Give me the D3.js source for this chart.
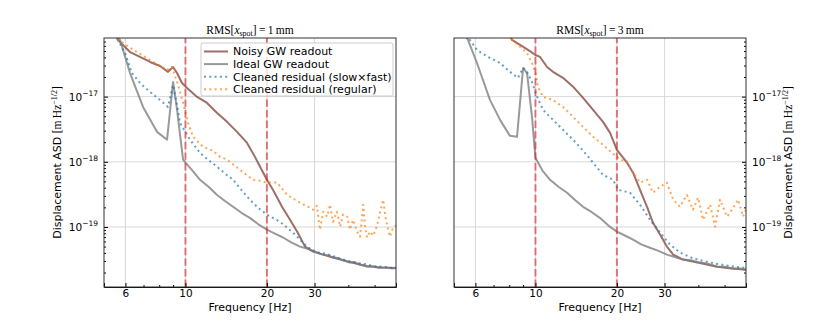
<!DOCTYPE html>
<html>
<head>
<meta charset="utf-8">
<script src="https://cdn.jsdelivr.net/npm/d3@7"></script>
<style>
  body { margin: 0; background: #fff; }
  svg { display: block; }
  text { font-family: "DejaVu Sans", sans-serif; }
  .math { font-family: "Liberation Serif", "DejaVu Serif", serif; }
</style>
</head>
<body>
<svg width="830" height="323"></svg>
<script>
// [frequency Hz, displacement ASD]
var noisy1 = [[5.5,9.0e-17],[5.63,7.4e-17],[6.24,4.83e-17],[6.79,4.06e-17],[7.40,3.4e-17],[8.05,2.95e-17],
  [8.62,2.4e-17],[9.0,2.85e-17],[9.31,2.3e-17],[9.71,1.62e-17],[10.14,1.36e-17],[11.04,9.9e-18],[12.02,8.0e-18],
  [13.09,5.6e-18],[14.25,4.1e-18],[15.51,2.88e-18],[16.89,1.95e-18],[18.07,1.19e-18],[18.87,8.4e-19],[20.0,5.3e-19],
  [21.08,3.7e-19],[22.75,2.04e-19],[24.35,1.29e-19],[25.85,8.5e-20],[27.67,5.0e-20],[29.63,4.2e-20],[32.0,3.8e-20],
  [35.1,3.4e-20],[40.5,2.9e-20],[46.9,2.5e-20],[53,2.4e-20],[60,2.35e-20]];

var ideal1 = [[5.5,9e-17],[5.73,7.4e-17],[6.24,2.3e-17],[6.97,6.95e-18],[7.85,2.88e-18],[8.55,2.18e-18],
  [9.0,1.68e-17],[9.31,6.3e-18],[9.80,1.08e-18],[10,9.7e-19],[10.6,7.4e-19],[11.32,5.3e-19],[12.2,4.1e-19],
  [13.09,3.1e-19],[14.0,2.5e-19],[15.0,2.04e-19],[16.1,1.65e-19],[17.3,1.38e-19],[18.6,1.1e-19],[20.0,9.1e-20],
  [21.4,7.9e-20],[22.95,6.9e-20],[24.6,5.8e-20],[26.5,5.0e-20],[28.5,4.6e-20],[30.6,4.07e-20],[32.0,3.8e-20],
  [33.5,3.7e-20],[35.1,3.4e-20],[36.5,3.35e-20],[38.0,3.1e-20],[40.5,2.84e-20],[42.0,2.9e-20],[44.0,2.65e-20],
  [46.9,2.47e-20],[49.0,2.5e-20],[52.0,2.35e-20],[55.0,2.4e-20],[58.5,2.3e-20],[60,2.38e-20]];

var clean1 = [[5.5,9e-17],[5.63,7.4e-17],[5.98,4.66e-17],[6.34,2.3e-17],[6.79,1.62e-17],[7.40,1.18e-17],
  [8.05,8.9e-18],[8.62,6.95e-18],[9.0,1.51e-17],[9.31,7.4e-18],[9.55,3.95e-18],[10.4,2.18e-18],[11.32,1.37e-18],
  [12.2,1.05e-18],[13.09,8.4e-19],[14.0,6.6e-19],[15.0,5.3e-19],[16.1,3.7e-19],[17.3,2.62e-19],[18.6,1.95e-19],
  [20.0,1.55e-19],[22.37,1.2e-19],[24.98,8.2e-20],[26.5,6.4e-20],[28.1,5.0e-20],[30.6,4.07e-20],[33.0,3.9e-20],
  [35.0,3.6e-20],[37.0,3.3e-20],[40.0,3.0e-20],[43.0,2.8e-20],[46.0,2.7e-20],[50.0,2.5e-20],[54.0,2.45e-20],
  [57.0,2.35e-20],[60,2.4e-20]];

var regular1 = [[5.5,9e-17],[5.63,7.4e-17],[6.62,4.83e-17],[7.40,3.65e-17],[8.55,2.57e-17],[8.92,2.85e-17],
  [9.39,1.51e-17],[9.80,8.0e-18],[10.22,3.95e-18],[10.67,2.42e-18],[11.61,1.7e-18],[12.64,1.48e-18],[13.43,1.19e-18],
  [14.25,1.08e-18],[15.92,7.5e-19],[17.77,5.3e-19],[18.87,5.1e-19],[20.0,4.8e-19],[21.8,4.8e-19],[23.75,3.1e-19],
  [26.5,2.35e-19],[28.9,1.97e-19],[29.63,1.84e-19],[30.6,2.12e-19],[31.4,9.1e-20],[32.3,1.71e-19],[33.4,1.44e-19],
  [34.2,2.2e-19],[35.1,1.2e-19],[36.3,1.71e-19],[37.3,1.01e-19],[38.2,1.55e-19],[39.6,1.44e-19],[40.5,9.1e-20],
  [41.6,1.29e-19],[43.1,8.5e-20],[44.2,7.1e-20],[45.4,2.2e-19],[46.1,9.8e-20],[46.9,6.9e-20],[48.1,8.5e-20],
  [49.4,7.36e-20],[51.1,1.05e-19],[52.4,1.71e-19],[53.8,2.62e-19],[54.7,1.55e-19],[55.6,1.08e-19],[57.0,7.1e-20],
  [58.5,9.8e-20],[60,1.05e-19]];

var noisy3 = [[8.0,9e-17],[8.19,7.4e-17],[8.77,6.2e-17],[9.39,5.2e-17],[10,4.35e-17],[10.4,4.06e-17],
  [11.04,2.85e-17],[11.61,2.4e-17],[12.64,1.94e-17],[13.77,1.42e-17],[15.0,9.55e-18],[16.33,6.25e-18],
  [17.77,4.1e-18],[18.87,2.78e-18],[20.0,1.53e-18],[21.8,9.7e-19],[22.95,6.8e-19],[24.35,3.72e-19],
  [25.85,2.04e-19],[27.2,1.16e-19],[28.9,7.6e-20],[30.6,5.0e-20],[32.3,3.77e-20],[35.1,3.16e-20],
  [40.5,2.8e-20],[46.9,2.45e-20],[53,2.3e-20],[60,2.2e-20]];

var ideal3 = [[5.5,9e-17],[5.63,7.4e-17],[6.08,3.28e-17],[6.79,8.9e-18],[7.40,4.4e-18],[8.05,2.5e-18],
  [8.55,2.42e-18],[9.0,2.75e-17],[9.31,2.3e-17],[9.71,4.9e-18],[10,1.15e-18],[10.6,7.4e-19],[11.32,5.3e-19],
  [12.2,4.1e-19],[13.09,3.35e-19],[14.0,2.6e-19],[15.0,2.04e-19],[16.1,1.7e-19],[17.3,1.38e-19],[18.6,1.05e-19],
  [20.0,8.5e-20],[21.4,7.4e-20],[22.95,6.4e-20],[24.6,5.4e-20],[26.5,4.8e-20],[28.5,4.3e-20],[30.6,3.77e-20],
  [32.5,3.5e-20],[35.1,3.16e-20],[37.5,3.1e-20],[40.5,2.84e-20],[43,2.75e-20],[46.9,2.47e-20],[50,2.45e-20],
  [54,2.3e-20],[57,2.3e-20],[60,2.2e-20]];

var clean3 = [[5.6,9e-17],[5.73,7.4e-17],[6.08,5.2e-17],[6.68,4.06e-17],[7.40,3.28e-17],[8.05,2.4e-17],
  [8.62,1.94e-17],[9.0,2.75e-17],[9.31,2.4e-17],[9.71,1.68e-17],[10.14,9.9e-18],[10.67,6.25e-18],[11.61,4.4e-18],
  [12.64,3.1e-18],[13.77,2.18e-18],[15.0,1.48e-18],[16.33,9.7e-19],[17.77,6.3e-19],[19.36,5.3e-19],[20.2,3.72e-19],
  [22.37,3.35e-19],[24.35,2.2e-19],[26.5,1.29e-19],[28.9,8.2e-20],[31.4,5.37e-20],[34.2,4.06e-20],[38.2,3.3e-20],
  [42,3.0e-20],[46,2.75e-20],[50,2.6e-20],[55,2.45e-20],[60,2.35e-20]];

var regular3 = [[8.0,9e-17],[8.19,7.4e-17],[8.62,6.2e-17],[9.31,4.66e-17],[9.71,3.28e-17],[10,2.3e-17],
  [10.22,1.42e-17],[10.67,9.9e-18],[11.61,8.9e-18],[12.64,6.95e-18],[13.77,4.9e-18],[15.0,3.43e-18],
  [16.33,2.42e-18],[17.77,1.82e-18],[19.2,1.37e-18],[20.55,1.08e-18],[21.8,1.0e-18],[22.95,6.8e-19],
  [24.35,4.8e-19],[25.85,5.3e-19],[27.2,3.35e-19],[28.9,4.15e-19],[30.6,4.8e-19],[32.3,2.62e-19],[34.2,2.04e-19],
  [36.3,3.1e-19],[38.2,1.84e-19],[39.9,2.82e-19],[41.6,1.29e-19],[44.2,2.2e-19],[46.1,1.01e-19],[48.1,2.62e-19],
  [51.1,1.44e-19],[53.8,1.97e-19],[56.1,2.62e-19],[58.5,1.44e-19],[60,1.84e-19]];

var seriesNames = ["Noisy GW readout", "Ideal GW readout", "Cleaned residual (slow\u00d7fast)", "Cleaned residual (regular)"];
var cutoffs = [10, 20];
var xTicks = [6, 10, 20, 30];
var xMinor = [7, 8, 9, 40, 50];
var yTicks = [1e-17, 1e-18, 1e-19];
var spotRms = ["1", "3"];

var styles = [
  {color: "#8c564b", opacity: 0.85, dash: null},
  {color: "#7f7f7f", opacity: 0.8, dash: null},
  {color: "#1f77b4", opacity: 0.7, dash: "2,3.3"},
  {color: "#ff7f0e", opacity: 0.7, dash: "2,3.3"}
];

var svg = d3.select("svg"),
    marginTop = 38,
    pw = 292,
    ph = 249;

var x = d3.scaleLog().domain([5, 60]).range([0, pw]);
var y = d3.scaleLog().domain([1.2e-20, 7.93e-17]).range([ph, 0]);

var yMinor = [];
[1e-20, 1e-19, 1e-18, 1e-17].forEach(function(d) {
  for (var k = 2; k <= 9; k++) {
    var v = d * k;
    if (v > 1.2e-20 && v < 7.93e-17) yMinor.push(v);
  }
});

var line = d3.line()
    .x(function(d) { return x(d[0]); })
    .y(function(d) { return y(d[1]); });

var panels = [
  {x0: 104, rms: spotRms[0], data: [noisy1, ideal1, clean1, regular1], side: "left", legend: true},
  {x0: 454, rms: spotRms[1], data: [noisy3, ideal3, clean3, regular3], side: "right", legend: false}
];

panels.forEach(function(p, pi) {
  var g = svg.append("g").attr("transform", "translate(" + p.x0 + "," + marginTop + ")");

  svg.append("clipPath").attr("id", "clip" + pi)
    .append("rect").attr("x", 0).attr("y", 0).attr("width", pw).attr("height", ph);

  // grid
  g.selectAll(".gx").data(xTicks).enter().append("line")
    .attr("x1", function(d) { return x(d); }).attr("x2", function(d) { return x(d); })
    .attr("y1", 0).attr("y2", ph)
    .attr("stroke", "#d4d4d4").attr("stroke-width", 0.9);
  g.selectAll(".gy").data(yTicks).enter().append("line")
    .attr("y1", function(d) { return y(d); }).attr("y2", function(d) { return y(d); })
    .attr("x1", 0).attr("x2", pw)
    .attr("stroke", "#d4d4d4").attr("stroke-width", 0.9);

  // curves
  var plot = g.append("g").attr("clip-path", "url(#clip" + pi + ")");
  p.data.forEach(function(s, i) {
    plot.append("path")
      .datum(s)
      .attr("d", line)
      .attr("fill", "none")
      .attr("stroke", styles[i].color)
      .attr("stroke-opacity", styles[i].opacity)
      .attr("stroke-width", 2)
      .attr("stroke-linejoin", "round")
      .attr("stroke-dasharray", styles[i].dash);
  });

  // cutoff lines
  plot.selectAll(".cut").data(cutoffs).enter().append("line")
    .attr("x1", function(d) { return x(d); }).attr("x2", function(d) { return x(d); })
    .attr("y1", ph).attr("y2", 0)
    .attr("stroke", "#d62728").attr("stroke-opacity", 0.6)
    .attr("stroke-width", 2).attr("stroke-dasharray", "7.4,3.2");

  // x axis
  var xa = g.append("g").attr("transform", "translate(0," + ph + ")")
    .call(d3.axisBottom(x).tickValues(xTicks).tickSize(-4).tickPadding(3).tickFormat(d3.format("d")));
  g.append("g").attr("transform", "translate(0," + ph + ")")
    .call(d3.axisBottom(x).tickValues(xMinor).tickSize(-2).tickFormat(""))
    .select(".domain").remove();
  xa.selectAll("text").attr("font-size", 10.5).attr("fill", "#000").style("font-family", "DejaVu Sans");

  // y axis
  var axisFn = p.side === "left" ? d3.axisLeft(y) : d3.axisRight(y);
  var ya = g.append("g").attr("transform", "translate(" + (p.side === "left" ? 0 : pw) + ",0)")
    .call(axisFn.tickValues(yTicks).tickSize(-4).tickFormat(""));
  ya.select(".domain").remove();
  var axisFn2 = p.side === "left" ? d3.axisLeft(y) : d3.axisRight(y);
  g.append("g").attr("transform", "translate(" + (p.side === "left" ? 0 : pw) + ",0)")
    .call(axisFn2.tickValues(yMinor).tickSize(-2).tickFormat(""))
    .select(".domain").remove();

  yTicks.forEach(function(t) {
    var tx = g.append("text")
      .attr("x", p.side === "left" ? -6 : pw + 6)
      .attr("y", y(t) + 4.5)
      .attr("text-anchor", p.side === "left" ? "end" : "start")
      .attr("font-size", 10.5).attr("fill", "#000");
    tx.append("tspan").text("10");
    tx.append("tspan").attr("dy", -5).attr("font-size", 7.5).text("\u2212" + Math.round(-Math.log10(t)));
  });

  // frame
  g.append("rect").attr("width", pw).attr("height", ph)
    .attr("fill", "none").attr("stroke", "#333").attr("stroke-width", 1);

  // title
  var tt = g.append("text").attr("class", "math")
    .attr("x", pw / 2).attr("y", -4)
    .attr("text-anchor", "middle").attr("font-size", 11.5);
  tt.append("tspan").text("RMS[");
  tt.append("tspan").attr("font-style", "italic").text("x");
  tt.append("tspan").attr("font-size", 8).attr("dy", 2).text("spot");
  tt.append("tspan").attr("dy", -2).text("]\u2009=\u20091\u2009mm".replace("1", p.rms));

  // y label
  var lx = p.side === "left" ? -43 : pw + 46;
  var yl = g.append("text")
    .attr("transform", "translate(" + lx + "," + (ph / 2) + ") rotate(-90)")
    .attr("text-anchor", "middle").attr("font-size", 11).attr("fill", "#000");
  yl.append("tspan").text("Displacement ASD ");
  yl.append("tspan").attr("class", "math").attr("font-size", 11.5).text("[m\u2009Hz");
  yl.append("tspan").attr("class", "math").attr("font-size", 8).attr("dy", -4.5).text("\u22121/2");
  yl.append("tspan").attr("class", "math").attr("font-size", 11.5).attr("dy", 4.5).text("]");

  // x label
  g.append("text")
    .attr("x", pw / 2).attr("y", ph + 24)
    .attr("text-anchor", "middle").attr("font-size", 11).attr("fill", "#000")
    .text("Frequency [Hz]");

  // legend
  if (p.legend) {
    var lg = g.append("g").attr("transform", "translate(" + (201 - p.x0) + "," + (43 - marginTop) + ")");
    lg.append("rect").attr("width", 192).attr("height", 53).attr("rx", 2)
      .attr("fill", "#fff").attr("fill-opacity", 0.8)
      .attr("stroke", "#ccc").attr("stroke-width", 1);
    seriesNames.forEach(function(name, i) {
      var ry = 8.5 + i * 12.6;
      lg.append("line")
        .attr("x1", 3).attr("x2", 27).attr("y1", ry).attr("y2", ry)
        .attr("stroke", styles[i].color).attr("stroke-opacity", styles[i].opacity)
        .attr("stroke-width", 2).attr("stroke-dasharray", styles[i].dash);
      lg.append("text")
        .attr("x", 32).attr("y", ry + 3.8)
        .attr("font-size", 11).attr("fill", "#000")
        .text(name);
    });
  }
});
</script>
</body>
</html>
